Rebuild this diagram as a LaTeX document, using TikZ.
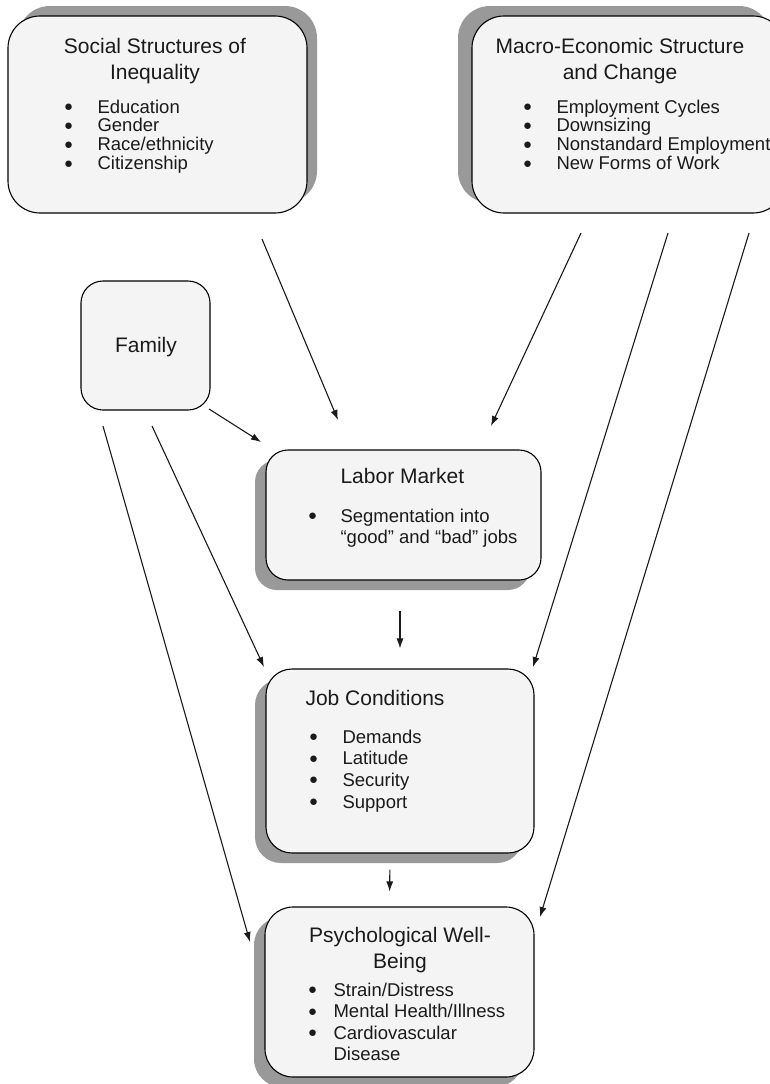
\documentclass[tikz,border=0pt]{standalone}
\usepackage{fontspec}
\setmainfont{Liberation Sans}
\usepackage{tikz}
\usetikzlibrary{arrows.meta,shadows}

\definecolor{boxfill}{HTML}{F4F4F4}
\definecolor{shade}{HTML}{999999}
\definecolor{ink}{HTML}{1A1A1A}

% bullet list: first column holds the bullet, second the text
\newcommand{\bul}{\raisebox{1.5pt}{\fontsize{15}{15}\selectfont\char"25CF}}
\newcommand{\blist}[2]{\begin{tabular}[t]{@{}p{#1}@{}l@{}}#2\end{tabular}}
\newcommand{\ctitle}[1]{\begin{tabular}[t]{@{}c@{}}#1\end{tabular}}

\begin{document}
\begin{tikzpicture}[x=1pt, y=-1pt, >={Latex[length=10pt,width=7pt]}, line width=1.1pt, color=ink]

		\tikzstyle{all} = [draw=black, fill=boxfill, inner sep=0pt]
		\tikzstyle{upright} = [all, drop shadow={shadow xshift=10pt, shadow yshift=10pt, fill=shade, opacity=1}]
		\tikzstyle{upleft} = [all, drop shadow={shadow xshift=-14pt, shadow yshift=10pt, fill=shade, opacity=1}]
		\tikzstyle{downleft} = [all, drop shadow={shadow xshift=-11pt, shadow yshift=-10pt, fill=shade, opacity=1}]
		\tikzstyle{title} = [inner sep=0pt, font=\fontsize{21}{26}\selectfont]
		\tikzstyle{items} = [inner sep=0pt, anchor=base west, font=\fontsize{18.5}{21.5}\selectfont]
		\tikzstyle{tight} = [items, font=\fontsize{18.5}{18.4}\selectfont]

		\useasboundingbox (0,0) rectangle (770,1084);
		\clip (0,0) rectangle (770,1084);

		% boxes
		\node [upright, rounded corners=32pt, minimum width=299pt, minimum height=197pt] (social) at (157.5,114.5) {};
		\node [upleft, rounded corners=32pt, minimum width=313pt, minimum height=197pt] (macro) at (628.5,114.5) {};
		\node [all, rounded corners=22pt, minimum width=129pt, minimum height=129pt] (family) at (145.5,345.5) {};
		\node [downleft, rounded corners=22pt, minimum width=275pt, minimum height=130pt] (labor) at (403.5,515) {};
		\node [downleft, rounded corners=26pt, minimum width=268pt, minimum height=184pt] (job) at (400,761) {};
		\node [downleft, rounded corners=28pt, minimum width=269pt, minimum height=170pt] (wellbeing) at (399.5,992) {};

		% texts
		\node [title, anchor=base] (social-t) at (155,53) {\ctitle{Social Structures of\\Inequality}};
		\node [tight] (social-l) at (63.5,113) {\blist{33.5pt}{\bul & Education\\ \bul & Gender\\ \bul & Race/ethnicity\\ \bul & Citizenship}};

		\node [title, anchor=base] (macro-t) at (620,53) {\ctitle{Macro-Economic Structure\\and Change}};
		\node [tight] (macro-l) at (522.5,113) {\blist{33.5pt}{\bul & Employment Cycles\\ \bul & Downsizing\\ \bul & Nonstandard Employment\\ \bul & New Forms of Work}};

		\node [title, anchor=base] (family-t) at (146,352) {Family};

		\node [title, anchor=base west] (labor-t) at (340,483) {Labor Market};
		\node [items] (labor-l) at (307.5,522) {\blist{32.5pt}{\bul & Segmentation into\\ & “good” and “bad” jobs}};

		\node [title, anchor=base west] (job-t) at (305,705) {Job Conditions};
		\node [items, font=\fontsize{18.5}{21.7}\selectfont] (job-l) at (308.5,743) {\blist{33.5pt}{\bul & Demands\\ \bul & Latitude\\ \bul & Security\\ \bul & Support}};

		\node [title, anchor=base] (wellbeing-t) at (400,942) {\ctitle{Psychological Well-\\Being}};
		\node [items] (wellbeing-l) at (307.5,996) {\blist{25.5pt}{\bul & Strain/Distress\\ \bul & Mental Health/Illness\\ \bul & Cardiovascular\\ & Disease}};

		% free ends of the connectors
		\coordinate (social-out) at (262,239);
		\coordinate (macro-out1) at (581,233);
		\coordinate (macro-out2) at (668,233);
		\coordinate (macro-out3) at (749,233);
		\coordinate (family-out1) at (209,409);
		\coordinate (family-out2) at (152,426);
		\coordinate (family-out3) at (103,426);
		\coordinate (labor-in1) at (338,420);
		\coordinate (labor-in2) at (261,442);
		\coordinate (labor-in3) at (491,426);
		\coordinate (job-in1) at (264,667);
		\coordinate (job-in2) at (533,667);
		\coordinate (wellbeing-in1) at (250,942);
		\coordinate (wellbeing-in2) at (540,917);

		\draw [->] (social-out) -- (labor-in1);
		\draw [->] (family-out1) -- (labor-in2);
		\draw [->] (macro-out1) -- (labor-in3);
		\draw [->] (family-out2) -- (job-in1);
		\draw [->] (macro-out2) -- (job-in2);
		\draw [->] (family-out3) -- (wellbeing-in1);
		\draw [->] (macro-out3) -- (wellbeing-in2);
		\draw [->, shorten <=30pt, shorten >=20pt] (labor.south -| job.north) -- (job.north);
		\draw [->, shorten <=16pt, shorten >=15pt] ([xshift=-10pt]job.south) -- ([xshift=-10pt]wellbeing.north);

\end{tikzpicture}
\end{document}
